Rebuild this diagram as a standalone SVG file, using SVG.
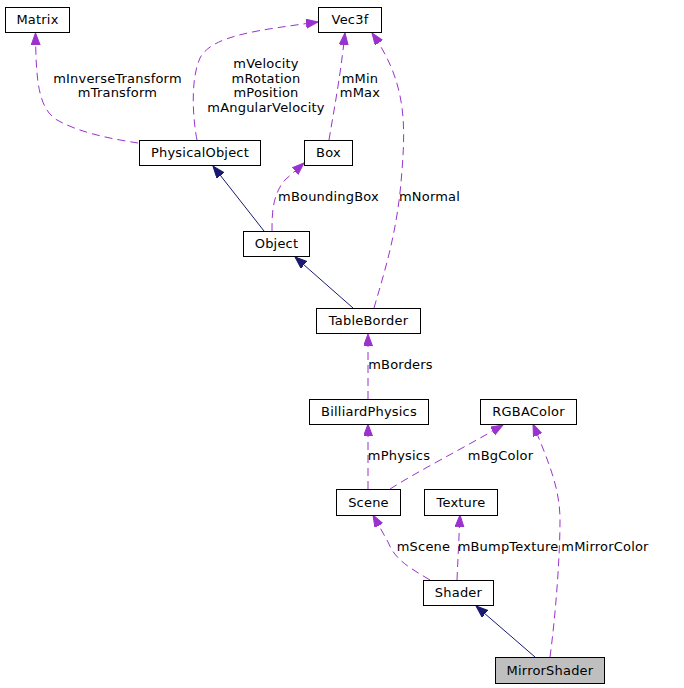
<svg xmlns="http://www.w3.org/2000/svg" width="684" height="688" viewBox="0 0 684 688">
<defs>
<style>
.node rect{fill:#ffffff;stroke:#000000;stroke-width:1}
.node text,.lbl{font-family:"DejaVu Sans","Liberation Sans",sans-serif;font-size:13px;letter-spacing:0.2px;fill:#000000;text-anchor:middle}
.use{fill:none;stroke:#9a32cd;stroke-width:1;stroke-dasharray:8,5}
.inh{fill:none;stroke:#191970;stroke-width:1}
</style>
<marker id="ap" markerUnits="userSpaceOnUse" markerWidth="14" markerHeight="12" refX="12" refY="4.5" orient="auto">
<path d="M0,0 L12,4.5 L0,9 z" fill="#9a32cd" stroke="#9a32cd"/>
</marker>
<marker id="an" markerUnits="userSpaceOnUse" markerWidth="14" markerHeight="12" refX="12" refY="4.5" orient="auto">
<path d="M0,0 L12,4.5 L0,9 z" fill="#191970" stroke="#191970"/>
</marker>
</defs>
<rect width="684" height="688" fill="#ffffff"/>
<g id="edges">
<path class="use" d="M138,143 C112,139 80,133 57,120 C38,108 36,80 35.5,33" marker-end="url(#ap)"/>
<path class="use" d="M197,140 C193,120 190,80 200,58 C212,35 260,30 318,22" marker-end="url(#ap)"/>
<path class="use" d="M329,140 C333,115 340,80 345,33" marker-end="url(#ap)"/>
<path class="use" d="M374,308 C385,270 398,230 402,170 C406,120 405,80 372,33" marker-end="url(#ap)"/>
<path class="use" d="M272,231 C272,215 272,195 285,180 L304,163" marker-end="url(#ap)"/>
<path class="inh" d="M264,231 L213,166" marker-end="url(#an)"/>
<path class="inh" d="M353,308 L295,257" marker-end="url(#an)"/>
<path class="use" d="M368,399 L368,334" marker-end="url(#ap)"/>
<path class="use" d="M368,489 L368,424" marker-end="url(#ap)"/>
<path class="use" d="M390,489 C420,470 460,450 503,425" marker-end="url(#ap)"/>
<path class="use" d="M430,580 C410,568 395,560 388,542 L373,515" marker-end="url(#ap)"/>
<path class="use" d="M457,580 L460,515" marker-end="url(#ap)"/>
<path class="use" d="M550,657 C555,620 560,560 560,520 C560,490 550,465 533,424" marker-end="url(#ap)"/>
<path class="inh" d="M535,657 L476,606" marker-end="url(#an)"/>
<text class="lbl" x="117.5" y="83">mInverseTransform</text>
<text class="lbl" x="117.5" y="97">mTransform</text>
<text class="lbl" x="266" y="68">mVelocity</text>
<text class="lbl" x="266" y="83">mRotation</text>
<text class="lbl" x="266" y="97">mPosition</text>
<text class="lbl" x="266" y="112">mAngularVelocity</text>
<text class="lbl" x="360" y="83">mMin</text>
<text class="lbl" x="360" y="97">mMax</text>
<text class="lbl" x="328.5" y="201">mBoundingBox</text>
<text class="lbl" x="429.5" y="201">mNormal</text>
<text class="lbl" x="400.5" y="369">mBorders</text>
<text class="lbl" x="399" y="460">mPhysics</text>
<text class="lbl" x="500.5" y="460">mBgColor</text>
<text class="lbl" x="423.5" y="551">mScene</text>
<text class="lbl" x="508" y="551">mBumpTexture</text>
<text class="lbl" x="605" y="551">mMirrorColor</text>
</g>
<g id="Matrix" class="node"><rect x="5.5" y="7.5" width="64" height="25"/><text x="37.5" y="24">Matrix</text></g>
<g id="Vec3f" class="node"><rect x="318.5" y="7.5" width="63" height="25"/><text x="350" y="24">Vec3f</text></g>
<g id="PhysicalObject" class="node"><rect x="139.5" y="140.5" width="121" height="25"/><text x="200" y="157">PhysicalObject</text></g>
<g id="Box" class="node"><rect x="304.5" y="140.5" width="48" height="25"/><text x="328.5" y="157">Box</text></g>
<g id="Object" class="node"><rect x="243.5" y="231.5" width="66" height="25"/><text x="276.5" y="248">Object</text></g>
<g id="TableBorder" class="node"><rect x="316.5" y="308.5" width="104" height="25"/><text x="368.5" y="325">TableBorder</text></g>
<g id="BilliardPhysics" class="node"><rect x="309.5" y="399.5" width="119" height="25"/><text x="369" y="416">BilliardPhysics</text></g>
<g id="RGBAColor" class="node"><rect x="480.5" y="399.5" width="96" height="25"/><text x="528.5" y="416">RGBAColor</text></g>
<g id="Scene" class="node"><rect x="336.5" y="489.5" width="64" height="26"/><text x="368.5" y="507">Scene</text></g>
<g id="Texture" class="node"><rect x="424.5" y="489.5" width="73" height="26"/><text x="461" y="507">Texture</text></g>
<g id="Shader" class="node"><rect x="423.5" y="580.5" width="70" height="25"/><text x="458.5" y="597">Shader</text></g>
<g id="MirrorShader" class="node"><rect x="495.5" y="657.5" width="109" height="26" style="fill:#bfbfbf"/><text x="550" y="675">MirrorShader</text></g>
</svg>
